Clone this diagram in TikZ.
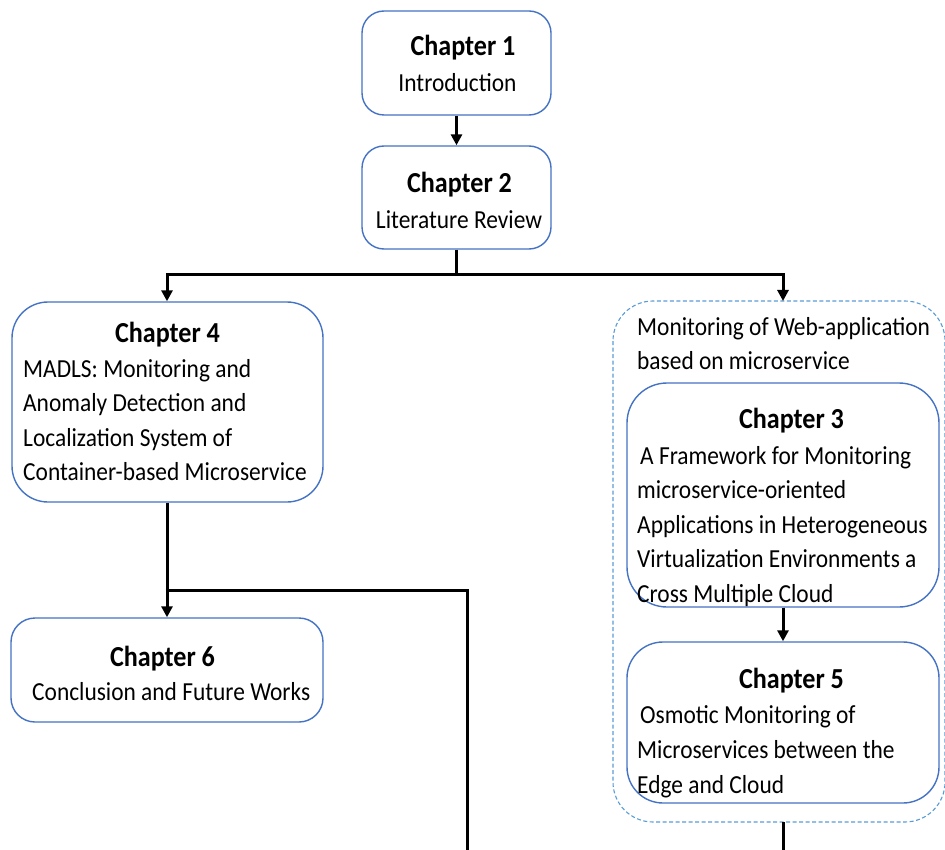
\documentclass[tikz,border=0pt]{standalone}
\usepackage{fontspec}
\setmainfont{Carlito}[FakeStretch=0.9]
\usetikzlibrary{arrows.meta}
\definecolor{boxblue}{HTML}{4472C4}
\definecolor{groupblue}{HTML}{5B9BD5}
\newcommand{\bodyfont}{\fontsize{26}{34}\selectfont}
\newcommand{\headfont}{\fontsize{29}{34}\selectfont\bfseries}
\tikzset{
  chapbox/.style={draw=boxblue, line width=1.4pt, fill=white, inner sep=0pt},
  groupbox/.style={draw=groupblue, line width=1.1pt, dash pattern=on 4pt off 2.5pt, rounded corners=40pt},
  ttl/.style={anchor=base, inner sep=0pt, font=\headfont},
  txt/.style={anchor=base west, inner sep=0pt, font=\bodyfont},
  link/.style={draw=black, line width=3pt},
  arr/.style={link, -{Triangle[length=11pt, width=11pt]}}
}
\begin{document}
\begin{tikzpicture}[x=1pt, y=-1pt]
\useasboundingbox (0,0) rectangle (945,850);

% group frame around chapters 3 and 5
\draw[groupbox] (613,301) rectangle (945,822);

% chapter boxes
\node[chapbox, rounded corners=22pt, minimum width=189pt, minimum height=104pt] (c1) at (456.5,63) {};
\node[chapbox, rounded corners=22pt, minimum width=189pt, minimum height=103pt] (c2) at (456.5,197.5) {};
\node[chapbox, rounded corners=36pt, minimum width=311pt, minimum height=200pt] (c4) at (167.5,402) {};
\node[chapbox, rounded corners=24pt, minimum width=312pt, minimum height=104pt] (c6) at (167,670) {};
\node[chapbox, rounded corners=40pt, minimum width=312pt, minimum height=224pt] (c3) at (783,495) {};
\node[chapbox, rounded corners=36pt, minimum width=312pt, minimum height=161pt] (c5) at (783,722.5) {};

% helper points for the connectors
\coordinate (g3) at (783,301);
\coordinate (g5) at (783,822);
\coordinate (sp) at (456.5,275);
\coordinate (jl) at (167,275);
\coordinate (jr) at (783,275);
\coordinate (j4) at (167,590);
\coordinate (jt) at (467,590);
\coordinate (e1) at (467,850);
\coordinate (e2) at (783,850);

% connectors
\draw[arr] (c1.south) -- (c2.north);
\draw[link] (c2.south) -- (sp);
\draw[link, line join=miter] (jl) -- (jr);
\draw[arr, line join=miter] (sp) -| (c4.north -| jl);
\draw[arr, line join=miter] (sp) -| (g3);
\draw[link] (c4.south -| j4) -- (j4);
\draw[arr] (j4) -- (c6.north -| j4);
\draw[link, line join=miter] ([xshift=-1.5pt]j4) -- (jt) -- (e1);
\draw[arr] (c3.south) -- (c5.north);
\draw[link] (g5) -- (e2);

% texts
\node[ttl] (t1) at (463,56) {Chapter 1};
\node[txt, anchor=base] (t1a) at (457.5,92) {Introduction};

\node[ttl] (t2) at (459.5,193) {Chapter 2};
\node[txt, anchor=base] (t2a) at (459,229) {Literature Review};

\node[ttl] (t4) at (167.5,342) {Chapter 4};
\node[txt] (t4a) at (23,377) {MADLS: Monitoring and};
\node[txt] (t4b) at (23,411) {Anomaly Detection and};
\node[txt] (t4c) at (23,446) {Localization System of};
\node[txt] (t4d) at (23,480) {Container-based Microservice};

\node[ttl] (t6) at (162.5,666) {Chapter 6};
\node[txt] (t6a) at (32,700) {Conclusion and Future Works};

\node[txt] (g1) at (637,335) {Monitoring of Web-application};
\node[txt] (g2) at (637,369) {based on microservice};

\node[ttl] (t3) at (791.5,428) {Chapter 3};
\node[txt] (t3a) at (640,464) {A Framework for Monitoring};
\node[txt] (t3b) at (637,498) {microservice-oriented};
\node[txt] (t3c) at (637,533) {Applications in Heterogeneous};
\node[txt] (t3d) at (637,567) {Virtualization Environments a};
\node[txt] (t3e) at (637,602) {Cross Multiple Cloud};

\node[ttl] (t5) at (791.5,688) {Chapter 5};
\node[txt] (t5a) at (640,723) {Osmotic Monitoring of};
\node[txt] (t5b) at (637,758) {Microservices between the};
\node[txt] (t5c) at (637,793) {Edge and Cloud};
\end{tikzpicture}
\end{document}
